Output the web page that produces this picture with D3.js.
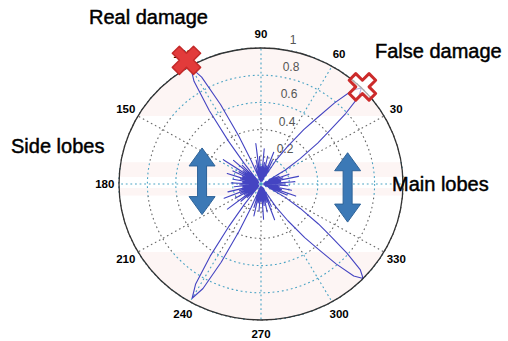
<!DOCTYPE html>
<html>
<head>
<meta charset="utf-8">
<script src="https://cdn.jsdelivr.net/npm/d3@7"></script>
<style>
  html, body { margin: 0; padding: 0; background: #fff; }
  svg { display: block; font-family: Arial, "Liberation Sans", sans-serif; }
</style>
</head>
<body>
<svg id="chart" width="508" height="341"></svg>
<script>
// Polar grid ticks
const angleTicks = [0, 30, 60, 90, 120, 150, 180, 210, 240, 270, 300, 330];
const radialTicks = [0.2, 0.4, 0.6, 0.8, 1];
// angle labels covered by annotations
const hiddenAngleLabels = [0];

// Beam pattern: angle (deg) and normalised gain
const patternDeg = [
  0, 2, 4, 6, 8, 10, 12, 14, 16, 18, 20, 22, 24,
  27, 31, 34, 37, 39, 41, 43, 45, 47, 49, 51, 53, 56, 59, 63,
  65, 67, 69, 71, 73, 75, 77, 79, 81, 83, 85, 87, 89, 91, 93, 95, 97, 99, 101, 103, 106,
  108, 110, 112, 114, 116, 118, 120, 122, 124, 126, 128, 130, 132,
  134, 136, 138, 140, 142, 144, 146, 148, 150, 152, 154, 156, 158, 160, 162, 164, 166, 168,
  170, 172, 174, 176, 178, 180, 182, 184, 186, 188, 190, 192, 194, 196, 198, 200, 202, 204,
  206, 208, 210, 212, 214, 216, 218, 220, 222, 224, 226,
  228, 230, 232, 234, 236, 238, 240, 242, 244, 246, 248, 250, 252,
  254, 256, 258, 260, 262, 264, 266, 268, 270, 272, 274, 276, 278, 280, 282, 284, 286, 288,
  290, 292, 294, 296,
  298, 302, 305, 308, 310, 312, 314, 316, 318, 320, 322, 324, 327, 330, 334,
  336, 338, 340, 342, 344, 346, 348, 350, 352, 354, 356, 358
];
const patternGain = [
  0.17, 0.02, 0.24, 0.03, 0.14, 0.02, 0.27, 0.04, 0.16, 0.02, 0.21, 0.03, 0.14,
  0.06, 0.20, 0.33, 0.50, 0.62, 0.79, 0.94, 1.00, 0.94, 0.79, 0.62, 0.50, 0.33, 0.20, 0.06,
  0.19, 0.03, 0.25, 0.02, 0.14, 0.03, 0.21, 0.02, 0.16, 0.03, 0.26, 0.02, 0.13, 0.03, 0.20, 0.02, 0.30, 0.04, 0.18, 0.02, 0.14,
  0.03, 0.08, 0.19, 0.39, 0.65, 0.89, 0.99, 0.89, 0.65, 0.39, 0.19, 0.08, 0.03,
  0.19, 0.03, 0.26, 0.02, 0.16, 0.04, 0.32, 0.03, 0.18, 0.02, 0.22, 0.03, 0.14, 0.02, 0.25, 0.03, 0.15, 0.02,
  0.20, 0.03, 0.13, 0.02, 0.21, 0.03, 0.15, 0.02, 0.19, 0.03, 0.13, 0.02, 0.24, 0.03, 0.16, 0.02, 0.28, 0.04,
  0.16, 0.02, 0.21, 0.03, 0.14, 0.02, 0.30, 0.04, 0.19, 0.02, 0.14,
  0.03, 0.08, 0.19, 0.38, 0.64, 0.87, 0.97, 0.87, 0.64, 0.38, 0.19, 0.08, 0.03,
  0.18, 0.02, 0.24, 0.03, 0.14, 0.02, 0.20, 0.03, 0.13, 0.02, 0.26, 0.03, 0.16, 0.02, 0.21, 0.03, 0.14, 0.02,
  0.28, 0.04, 0.18, 0.03,
  0.06, 0.20, 0.33, 0.50, 0.62, 0.79, 0.94, 1.00, 0.94, 0.79, 0.62, 0.50, 0.33, 0.20, 0.06,
  0.20, 0.03, 0.26, 0.02, 0.15, 0.03, 0.22, 0.02, 0.13, 0.03, 0.19, 0.02
];

// Annotations (polar / data coordinates)
const damageMarks = [
  { name: "real",  deg: 120, r: 1.05 },
  { name: "false", deg: 45,  r: 1.01 }
];
const lobeArrows = [
  { x: -0.415, y0: 0.265, y1: -0.225 },
  { x: 0.61,   y0: 0.23,  y1: -0.28 }
];
const captions = [
  { text: "Real damage",  x: 89,  y: 24 },
  { text: "False damage", x: 375, y: 58 },
  { text: "Side lobes",   x: 11,  y: 153 },
  { text: "Main lobes",   x: 392, y: 191 }
];

const cx = 261, cy = 184, rx = 142, ry = 136;
const x = d3.scaleLinear().domain([-1, 1]).range([cx - rx, cx + rx]);
const y = d3.scaleLinear().domain([-1, 1]).range([cy + ry, cy - ry]);
const rad = d => d * Math.PI / 180;
const px = (deg, r) => x(r * Math.cos(rad(deg)));
const py = (deg, r) => y(r * Math.sin(rad(deg)));

const svg = d3.select("#chart");
const defs = svg.append("defs");

defs.append("clipPath").attr("id", "disc")
  .append("ellipse").attr("cx", x(0)).attr("cy", y(0))
  .attr("rx", x(1) - x(0)).attr("ry", y(0) - y(1));

// faintly tinted horizontal strips of the disc
const strips = [
  [y(1), y(0.5)],
  [y(0.16), y(0.05)],
  [y(-0.03), y(-0.085)],
  [y(-0.5), y(-1)]
];
const cyanZone = defs.append("clipPath").attr("id", "cyanZone");
[[y(1), y(0.5)], [y(0.17), y(-0.09)], [y(-0.5), y(-1)]].forEach(([a, b]) => {
  cyanZone.append("rect").attr("x", 0).attr("width", 508).attr("y", a).attr("height", b - a);
});

function drawGrid(g, colour, dash) {
  g.selectAll("ellipse.ring").data(radialTicks).join("ellipse")
    .attr("class", "ring")
    .attr("cx", x(0)).attr("cy", y(0))
    .attr("rx", d => x(d) - x(0)).attr("ry", d => y(0) - y(d))
    .attr("fill", "none").attr("stroke", colour)
    .attr("stroke-width", 1.1).attr("stroke-dasharray", dash);
  g.selectAll("line.spoke").data(angleTicks).join("line")
    .attr("class", "spoke")
    .attr("x1", x(0)).attr("y1", y(0))
    .attr("x2", d => px(d, 1)).attr("y2", d => py(d, 1))
    .attr("stroke", colour).attr("stroke-width", 1.1).attr("stroke-dasharray", dash);
}

drawGrid(svg.append("g"), "#666", "1.6,3");

const tint = svg.append("g").attr("clip-path", "url(#disc)");
strips.forEach(([a, b]) => {
  tint.append("rect").attr("x", x(-1)).attr("width", x(1) - x(-1))
    .attr("y", a).attr("height", b - a).attr("fill", "#fdf5f4");
});
tint.append("rect").attr("x", x(-1)).attr("width", x(1) - x(-1))
  .attr("y", y(0.05)).attr("height", y(-0.03) - y(0.05)).attr("fill", "#fff");

const cyanGrid = svg.append("g").attr("clip-path", "url(#cyanZone)");
drawGrid(cyanGrid, "#4aa3c4", "1.8,2.8");

// radial tick labels
svg.append("g").selectAll("text").data(radialTicks).join("text")
  .attr("x", d => cx + 22 + 10 * d)
  .attr("y", d => y(d) - 4)
  .attr("text-anchor", "middle")
  .attr("font-size", 12).attr("fill", "#555")
  .text(d => d === 1 ? "1" : d.toFixed(1));

// beam pattern
const pts = patternDeg.map((d, i) => [d, patternGain[i]]);
const line = d3.line()
  .x(p => px(p[0], p[1]))
  .y(p => py(p[0], p[1]))
  .curve(d3.curveLinearClosed);
svg.append("path").datum(pts)
  .attr("d", line)
  .attr("fill", "none")
  .attr("stroke", "#4444c2")
  .attr("stroke-width", 1.1)
  .attr("stroke-linejoin", "round");

// outer boundary
svg.append("ellipse").attr("cx", x(0)).attr("cy", y(0))
  .attr("rx", x(1) - x(0)).attr("ry", y(0) - y(1))
  .attr("fill", "none").attr("stroke", "#333").attr("stroke-width", 1.3);

// angle tick labels
svg.append("g").selectAll("text")
  .data(angleTicks.filter(d => !hiddenAngleLabels.includes(d))).join("text")
  .attr("x", d => px(d, 1.1))
  .attr("y", d => py(d, 1.1) + 4)
  .attr("text-anchor", "middle")
  .attr("font-size", 11.5).attr("font-weight", "bold").attr("fill", "#000")
  .text(d => d);

// double-headed arrows
const arrowPath = a => {
  const xc = x(a.x), top = y(a.y0), bot = y(a.y1);
  const hw = 13, sw = 4.5, hl = 18;
  return `M${xc},${top} L${xc + hw},${top + hl} L${xc + sw},${top + hl}
    L${xc + sw},${bot - hl} L${xc + hw},${bot - hl} L${xc},${bot}
    L${xc - hw},${bot - hl} L${xc - sw},${bot - hl} L${xc - sw},${top + hl}
    L${xc - hw},${top + hl} Z`;
};
svg.append("g").selectAll("path").data(lobeArrows).join("path")
  .attr("d", arrowPath)
  .attr("fill", "#3c79b6").attr("stroke", "#2d6298").attr("stroke-width", 1);

// damage markers
const cross = d3.symbol().type(d3.symbolCross);
svg.append("g").selectAll("path").data(damageMarks).join("path")
  .attr("transform", d => `translate(${px(d.deg, d.r)},${py(d.deg, d.r)}) rotate(45)`)
  .attr("d", d => cross.size(d.name === "real" ? 500 : 440)())
  .attr("fill", d => d.name === "real" ? "#e23b3b" : "rgba(255,255,255,0.6)")
  .attr("stroke", d => d.name === "real" ? "#c42a2a" : "#cc2b2b")
  .attr("stroke-width", d => d.name === "real" ? 1.5 : 3)
  .attr("stroke-linejoin", "round");

// captions
svg.append("g").selectAll("text").data(captions).join("text")
  .attr("x", d => d.x).attr("y", d => d.y)
  .attr("font-size", 20).attr("fill", "#000")
  .attr("stroke", "#000").attr("stroke-width", 0.45)
  .text(d => d.text);
</script>
</body>
</html>
